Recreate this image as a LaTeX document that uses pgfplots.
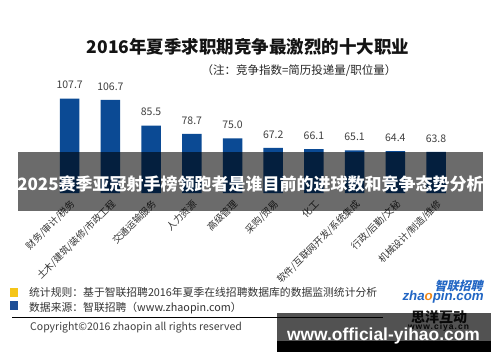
\documentclass[border=0pt]{standalone}
\usepackage{fontspec}
\setmainfont{Noto Sans CJK SC}
\newfontfamily\lib{Liberation Sans}
\usepackage{pgfplots}
\pgfplotsset{compat=1.18}
\definecolor{barblue}{HTML}{0B4A94}
\definecolor{txtgray}{HTML}{333333}
\definecolor{numgray}{HTML}{404040}
\definecolor{sqyellow}{HTML}{F5C518}
\definecolor{sqblue}{HTML}{1D4E96}
\definecolor{logoblue}{HTML}{2266C4}
\definecolor{logoorange}{HTML}{F08A1C}
\newcommand{\fs}[1]{\fontsize{#1bp}{#1bp}\selectfont}
\begin{document}
\begin{tikzpicture}[x=1bp,y=1bp]
\fill[white] (0,0) rectangle (500,362);
\useasboundingbox (0,0) rectangle (500,362);
% titles
\node[font=\bfseries\fs{17.5}, text=black!92] at (248,315.3) {2016年夏季求职期竞争最激烈的十大职业};
\node[anchor=east, font=\fs{11.5}, text=black!85] at (400,291.3) {（注：竞争指数=简历投递量/职位量）};
% chart
\begin{axis}[
  at={(29bp,169bp)}, anchor=south west, scale only axis,
  width=447.7bp, height=127.5bp,
  xmin=-1, xmax=10, ymin=30, ymax=135,
  ybar, bar width=19.5bp,
  axis line style={draw=none}, tick style={draw=none},
  ytick=\empty, xtick={0,...,9},
  xticklabels={财务/审计/税务, 土木/建筑/装修/市政工程, 交通运输服务, 人力资源, 高级管理, 采购/贸易, 化工, 软件/互联网开发/系统集成, 行政/后勤/文秘, 机械设计/制造/维修},
  xticklabel style={rotate=45, anchor=north east, font=\fs{9.5}, text=txtgray, inner sep=1bp},
  nodes near coords={\pgfmathprintnumber[assume math mode=true, fixed, fixed zerofill, precision=1]{\pgfplotspointmeta}},
  nodes near coords style={anchor=center, yshift=13.5bp, font=\fs{10.5}, text=numgray},
]
\addplot[fill=barblue, draw=none] coordinates {(0,107.7) (1,106.7) (2,85.5) (3,78.7) (4,75.0) (5,67.2) (6,66.1) (7,65.1) (8,64.4) (9,63.8)};
\end{axis}
% banner overlay
\fill[black, opacity=0.58] (18,151) rectangle (483,210);
\node[font=\bfseries\fs{17}, text=white] at (250.5,178) {2025赛季亚冠射手榜领跑者是谁目前的进球数和竞争态势分析};
% footer
\fill[sqyellow] (10,65) rectangle (17.5,74);
\fill[sqblue] (10,52) rectangle (17.5,61);
\node[anchor=west, font=\fs{10.8}, text=txtgray, inner sep=0pt] at (29,70) {统计规则：基于智联招聘2016年夏季在线招聘数据库的数据监测统计分析};
\node[anchor=west, font=\fs{10.8}, text=txtgray, inner sep=0pt] at (29,54) {数据来源：智联招聘（www.zhaopin.com）};
\draw[black, line width=0.8bp] (12,44.7) -- (383,44.7);
\node[anchor=west, font=\fs{10.5}, text=numgray, inner sep=0pt] at (30,34) {Copyright©2016 zhaopin all rights reserved};
% logo
\node[anchor=east, font=\bfseries\fs{12}, text=logoblue, xslant=0.25, inner sep=0pt] at (484,76) {智联招聘};
\node[anchor=east, font=\lib\bfseries\itshape\fs{13.3}, text=logoblue, inner sep=0pt] at (484,65) {zha{\color{logoorange}o}pin.com};
\node[font=\bfseries\fs{14}, text=black!90, inner sep=0pt] at (439,44.5) {思洋互动};
\node[font=\lib\bfseries\fs{8.5}\addfontfeature{LetterSpace=12}, text=black!90, inner sep=0pt] at (438.5,34.5) {www.ciya.cn};
% watermark box
\fill[black, opacity=0.68] (277,21) rectangle (491,49);
\fill[black] (277,10) rectangle (491,21);
\node[anchor=base, font=\lib\bfseries\fs{17.4}, text=white, inner sep=0pt] at (383.5,22) {www.official-yihao.com};
\end{tikzpicture}
\end{document}
